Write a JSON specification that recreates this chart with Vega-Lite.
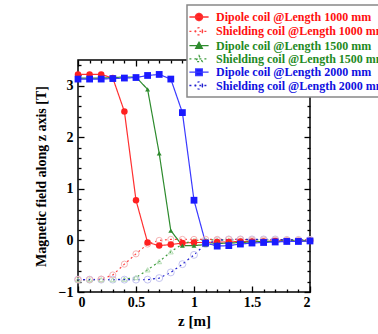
{
  "$schema": "https://vega.github.io/schema/vega-lite/v6.json",
  "width": 232,
  "height": 232,
  "autosize": "none",
  "padding": {"left": 78, "top": 60, "right": 68, "bottom": 42},
  "background": "white",
  "config": {
    "view": {"stroke": "black", "strokeWidth": 1.5},
    "axis": {
      "labelFont": "Liberation Serif", "labelFontWeight": "bold", "labelFontSize": 14, "labelColor": "black",
      "titleFont": "Liberation Serif", "titleFontWeight": "bold", "titleFontSize": 14, "titleColor": "black",
      "domain": false, "grid": false, "ticks": true, "tickColor": "black", "tickWidth": 1.3, "zindex": 2
    }
  },
  "datasets": {
    "field": [
      {"series": "Dipole coil @Length 1000 mm", "z": 0, "B": 3.22},
      {"series": "Dipole coil @Length 1000 mm", "z": 0.1, "B": 3.22},
      {"series": "Dipole coil @Length 1000 mm", "z": 0.2, "B": 3.22},
      {"series": "Dipole coil @Length 1000 mm", "z": 0.3, "B": 3.15},
      {"series": "Dipole coil @Length 1000 mm", "z": 0.4, "B": 2.5},
      {"series": "Dipole coil @Length 1000 mm", "z": 0.5, "B": 0.78},
      {"series": "Dipole coil @Length 1000 mm", "z": 0.6, "B": -0.04},
      {"series": "Dipole coil @Length 1000 mm", "z": 0.7, "B": -0.1},
      {"series": "Dipole coil @Length 1000 mm", "z": 0.8, "B": -0.08},
      {"series": "Dipole coil @Length 1000 mm", "z": 0.9, "B": -0.05},
      {"series": "Dipole coil @Length 1000 mm", "z": 1.0, "B": -0.04},
      {"series": "Dipole coil @Length 1000 mm", "z": 1.1, "B": -0.04},
      {"series": "Dipole coil @Length 1000 mm", "z": 1.2, "B": -0.03},
      {"series": "Dipole coil @Length 1000 mm", "z": 1.3, "B": -0.03},
      {"series": "Dipole coil @Length 1000 mm", "z": 1.4, "B": -0.02},
      {"series": "Dipole coil @Length 1000 mm", "z": 1.5, "B": -0.02},
      {"series": "Dipole coil @Length 1000 mm", "z": 1.6, "B": -0.02},
      {"series": "Dipole coil @Length 1000 mm", "z": 1.7, "B": -0.01},
      {"series": "Dipole coil @Length 1000 mm", "z": 1.8, "B": -0.01},
      {"series": "Dipole coil @Length 1000 mm", "z": 1.9, "B": -0.01},
      {"series": "Dipole coil @Length 1000 mm", "z": 2.0, "B": -0.01},
      {"series": "Shielding coil @Length 1000 mm", "z": 0, "B": -0.76},
      {"series": "Shielding coil @Length 1000 mm", "z": 0.1, "B": -0.76},
      {"series": "Shielding coil @Length 1000 mm", "z": 0.2, "B": -0.75},
      {"series": "Shielding coil @Length 1000 mm", "z": 0.3, "B": -0.67},
      {"series": "Shielding coil @Length 1000 mm", "z": 0.4, "B": -0.46},
      {"series": "Shielding coil @Length 1000 mm", "z": 0.5, "B": -0.26},
      {"series": "Shielding coil @Length 1000 mm", "z": 0.6, "B": -0.07},
      {"series": "Shielding coil @Length 1000 mm", "z": 0.7, "B": 0.0},
      {"series": "Shielding coil @Length 1000 mm", "z": 0.8, "B": 0.02},
      {"series": "Shielding coil @Length 1000 mm", "z": 0.9, "B": 0.02},
      {"series": "Shielding coil @Length 1000 mm", "z": 1.0, "B": 0.02},
      {"series": "Shielding coil @Length 1000 mm", "z": 1.1, "B": 0.02},
      {"series": "Shielding coil @Length 1000 mm", "z": 1.2, "B": 0.02},
      {"series": "Shielding coil @Length 1000 mm", "z": 1.3, "B": 0.02},
      {"series": "Shielding coil @Length 1000 mm", "z": 1.4, "B": 0.02},
      {"series": "Shielding coil @Length 1000 mm", "z": 1.5, "B": 0.01},
      {"series": "Shielding coil @Length 1000 mm", "z": 1.6, "B": 0.01},
      {"series": "Shielding coil @Length 1000 mm", "z": 1.7, "B": 0.01},
      {"series": "Shielding coil @Length 1000 mm", "z": 1.8, "B": 0.01},
      {"series": "Shielding coil @Length 1000 mm", "z": 1.9, "B": 0.01},
      {"series": "Shielding coil @Length 1000 mm", "z": 2.0, "B": 0.01},
      {"series": "Dipole coil @Length 1500 mm", "z": 0, "B": 3.15},
      {"series": "Dipole coil @Length 1500 mm", "z": 0.1, "B": 3.15},
      {"series": "Dipole coil @Length 1500 mm", "z": 0.2, "B": 3.15},
      {"series": "Dipole coil @Length 1500 mm", "z": 0.3, "B": 3.16},
      {"series": "Dipole coil @Length 1500 mm", "z": 0.4, "B": 3.17},
      {"series": "Dipole coil @Length 1500 mm", "z": 0.5, "B": 3.17},
      {"series": "Dipole coil @Length 1500 mm", "z": 0.6, "B": 2.93},
      {"series": "Dipole coil @Length 1500 mm", "z": 0.7, "B": 1.69},
      {"series": "Dipole coil @Length 1500 mm", "z": 0.8, "B": 0.19},
      {"series": "Dipole coil @Length 1500 mm", "z": 0.9, "B": -0.1},
      {"series": "Dipole coil @Length 1500 mm", "z": 1.0, "B": -0.1},
      {"series": "Dipole coil @Length 1500 mm", "z": 1.1, "B": -0.08},
      {"series": "Dipole coil @Length 1500 mm", "z": 1.2, "B": -0.06},
      {"series": "Dipole coil @Length 1500 mm", "z": 1.3, "B": -0.05},
      {"series": "Dipole coil @Length 1500 mm", "z": 1.4, "B": -0.04},
      {"series": "Dipole coil @Length 1500 mm", "z": 1.5, "B": -0.03},
      {"series": "Dipole coil @Length 1500 mm", "z": 1.6, "B": -0.02},
      {"series": "Dipole coil @Length 1500 mm", "z": 1.7, "B": -0.02},
      {"series": "Dipole coil @Length 1500 mm", "z": 1.8, "B": -0.01},
      {"series": "Dipole coil @Length 1500 mm", "z": 1.9, "B": -0.01},
      {"series": "Dipole coil @Length 1500 mm", "z": 2.0, "B": -0.01},
      {"series": "Shielding coil @Length 1500 mm", "z": 0, "B": -0.76},
      {"series": "Shielding coil @Length 1500 mm", "z": 0.1, "B": -0.76},
      {"series": "Shielding coil @Length 1500 mm", "z": 0.2, "B": -0.76},
      {"series": "Shielding coil @Length 1500 mm", "z": 0.3, "B": -0.76},
      {"series": "Shielding coil @Length 1500 mm", "z": 0.4, "B": -0.75},
      {"series": "Shielding coil @Length 1500 mm", "z": 0.5, "B": -0.72},
      {"series": "Shielding coil @Length 1500 mm", "z": 0.6, "B": -0.57},
      {"series": "Shielding coil @Length 1500 mm", "z": 0.7, "B": -0.41},
      {"series": "Shielding coil @Length 1500 mm", "z": 0.8, "B": -0.22},
      {"series": "Shielding coil @Length 1500 mm", "z": 0.9, "B": -0.07},
      {"series": "Shielding coil @Length 1500 mm", "z": 1.0, "B": 0.0},
      {"series": "Shielding coil @Length 1500 mm", "z": 1.1, "B": 0.01},
      {"series": "Shielding coil @Length 1500 mm", "z": 1.2, "B": 0.01},
      {"series": "Shielding coil @Length 1500 mm", "z": 1.3, "B": 0.01},
      {"series": "Shielding coil @Length 1500 mm", "z": 1.4, "B": 0.01},
      {"series": "Shielding coil @Length 1500 mm", "z": 1.5, "B": 0.01},
      {"series": "Shielding coil @Length 1500 mm", "z": 1.6, "B": 0.01},
      {"series": "Shielding coil @Length 1500 mm", "z": 1.7, "B": 0.01},
      {"series": "Shielding coil @Length 1500 mm", "z": 1.8, "B": 0.01},
      {"series": "Shielding coil @Length 1500 mm", "z": 1.9, "B": 0.01},
      {"series": "Shielding coil @Length 1500 mm", "z": 2.0, "B": 0.01},
      {"series": "Dipole coil @Length 2000 mm", "z": 0, "B": 3.13},
      {"series": "Dipole coil @Length 2000 mm", "z": 0.1, "B": 3.13},
      {"series": "Dipole coil @Length 2000 mm", "z": 0.2, "B": 3.13},
      {"series": "Dipole coil @Length 2000 mm", "z": 0.3, "B": 3.14},
      {"series": "Dipole coil @Length 2000 mm", "z": 0.4, "B": 3.15},
      {"series": "Dipole coil @Length 2000 mm", "z": 0.5, "B": 3.16},
      {"series": "Dipole coil @Length 2000 mm", "z": 0.6, "B": 3.2},
      {"series": "Dipole coil @Length 2000 mm", "z": 0.7, "B": 3.22},
      {"series": "Dipole coil @Length 2000 mm", "z": 0.8, "B": 3.13},
      {"series": "Dipole coil @Length 2000 mm", "z": 0.9, "B": 2.48},
      {"series": "Dipole coil @Length 2000 mm", "z": 1.0, "B": 0.78},
      {"series": "Dipole coil @Length 2000 mm", "z": 1.1, "B": -0.05},
      {"series": "Dipole coil @Length 2000 mm", "z": 1.2, "B": -0.11},
      {"series": "Dipole coil @Length 2000 mm", "z": 1.3, "B": -0.1},
      {"series": "Dipole coil @Length 2000 mm", "z": 1.4, "B": -0.07},
      {"series": "Dipole coil @Length 2000 mm", "z": 1.5, "B": -0.05},
      {"series": "Dipole coil @Length 2000 mm", "z": 1.6, "B": -0.04},
      {"series": "Dipole coil @Length 2000 mm", "z": 1.7, "B": -0.03},
      {"series": "Dipole coil @Length 2000 mm", "z": 1.8, "B": -0.02},
      {"series": "Dipole coil @Length 2000 mm", "z": 1.9, "B": -0.02},
      {"series": "Dipole coil @Length 2000 mm", "z": 2.0, "B": -0.01},
      {"series": "Shielding coil @Length 2000 mm", "z": 0, "B": -0.76},
      {"series": "Shielding coil @Length 2000 mm", "z": 0.1, "B": -0.76},
      {"series": "Shielding coil @Length 2000 mm", "z": 0.2, "B": -0.76},
      {"series": "Shielding coil @Length 2000 mm", "z": 0.3, "B": -0.76},
      {"series": "Shielding coil @Length 2000 mm", "z": 0.4, "B": -0.76},
      {"series": "Shielding coil @Length 2000 mm", "z": 0.5, "B": -0.76},
      {"series": "Shielding coil @Length 2000 mm", "z": 0.6, "B": -0.76},
      {"series": "Shielding coil @Length 2000 mm", "z": 0.7, "B": -0.73},
      {"series": "Shielding coil @Length 2000 mm", "z": 0.8, "B": -0.62},
      {"series": "Shielding coil @Length 2000 mm", "z": 0.9, "B": -0.46},
      {"series": "Shielding coil @Length 2000 mm", "z": 1.0, "B": -0.28},
      {"series": "Shielding coil @Length 2000 mm", "z": 1.1, "B": -0.07},
      {"series": "Shielding coil @Length 2000 mm", "z": 1.2, "B": 0.0},
      {"series": "Shielding coil @Length 2000 mm", "z": 1.3, "B": 0.02},
      {"series": "Shielding coil @Length 2000 mm", "z": 1.4, "B": 0.02},
      {"series": "Shielding coil @Length 2000 mm", "z": 1.5, "B": 0.02},
      {"series": "Shielding coil @Length 2000 mm", "z": 1.6, "B": 0.02},
      {"series": "Shielding coil @Length 2000 mm", "z": 1.7, "B": 0.02},
      {"series": "Shielding coil @Length 2000 mm", "z": 1.8, "B": 0.01},
      {"series": "Shielding coil @Length 2000 mm", "z": 1.9, "B": 0.01},
      {"series": "Shielding coil @Length 2000 mm", "z": 2.0, "B": 0.01}
    ]
  },
  "data": {"name": "field"},
  "resolve": {"axis": {"x": "independent", "y": "independent"}},
  "layer": [
    {
      "mark": {"type": "line", "strokeWidth": 1.2},
      "encoding": {
        "x": {"field": "z", "type": "quantitative", "scale": {"domain": [0, 2], "nice": false, "zero": false},
          "axis": {"orient": "bottom", "title": "z [m]", "titleFontSize": 15, "titlePadding": 4,
            "values": [0, 0.5, 1, 1.5, 2], "format": "~g", "offset": -6, "tickSize": 6, "labelPadding": 3}},
        "y": {"field": "B", "type": "quantitative", "scale": {"domain": [-1, 3.5], "nice": false, "zero": false},
          "axis": {"orient": "left", "title": "Magnetic field along z axis [T]", "titlePadding": 10,
            "values": [-1, 0, 1, 2, 3], "offset": -6, "tickSize": 6, "labelPadding": 5}},
        "color": {"field": "series", "type": "nominal",
          "scale": {"domain": ["Dipole coil @Length 1000 mm", "Shielding coil @Length 1000 mm", "Dipole coil @Length 1500 mm", "Shielding coil @Length 1500 mm", "Dipole coil @Length 2000 mm", "Shielding coil @Length 2000 mm"],
            "range": ["#ff3030", "#ff4040", "#2e8b2e", "#3a9a3a", "#3a3aff", "#2020d0"]},
          "legend": {
            "orient": "none", "legendX": 109, "legendY": -55, "title": null, "zindex": 3,
            "fillColor": "white", "strokeColor": "#888888", "padding": 5,
            "symbolSize": 144, "labelOffset": 10, "rowPadding": 0.3, "labelLimit": 400,
            "labelFont": "Liberation Serif", "labelFontWeight": "bold", "labelFontSize": 12,
            "symbolType": "M-1.6,0L1.6,0M0.6,0A0.6,0.6 0 1 1 -0.6,0A0.6,0.6 0 1 1 0.6,0Z",
            "encode": {
              "legend": {"update": {"strokeWidth": {"value": 1.5}}},
              "symbols": {"update": {
                "shape": {"signal": "indexof(datum.value,'1500')>0 ? 'M-1.6,0L1.6,0M0,-0.55L0.55,0.45L-0.55,0.45Z' : (indexof(datum.value,'Dipole')>=0 && indexof(datum.value,'2000')>0) ? 'M-1.6,0L1.6,0M-0.55,-0.55L0.55,-0.55L0.55,0.55L-0.55,0.55Z' : 'M-1.6,0L1.6,0M0.6,0A0.6,0.6 0 1 1 -0.6,0A0.6,0.6 0 1 1 0.6,0Z'"},
                "strokeDash": {"signal": "indexof(datum.value,'Shielding')>=0 ? [1.5,2.5] : [1,0]"},
                "strokeWidth": {"value": 1.3},
                "fill": {"signal": "indexof(datum.value,'Shielding')>=0 ? 'rgba(255,255,255,0)' : indexof(datum.value,'1000')>0 ? '#ff2020' : indexof(datum.value,'1500')>0 ? '#2e8b2e' : '#1a1aff'"},
                "fillOpacity": {"value": 1}
              }},
              "labels": {"update": {
                "fill": {"signal": "indexof(datum.value,'1000')>0 ? '#ff1010' : indexof(datum.value,'1500')>0 ? '#1f8a1f' : '#1010e0'"}
              }}
            }
          }},
        "strokeDash": {"field": "series", "type": "nominal", "legend": null,
          "scale": {"domain": ["Dipole coil @Length 1000 mm", "Shielding coil @Length 1000 mm", "Dipole coil @Length 1500 mm", "Shielding coil @Length 1500 mm", "Dipole coil @Length 2000 mm", "Shielding coil @Length 2000 mm"],
            "range": [[1, 0], [2, 3], [1, 0], [2, 3], [1, 0], [2, 3]]}}
      }
    },
    {
      "mark": {"type": "line", "strokeOpacity": 0},
      "encoding": {
        "x": {"field": "z", "type": "quantitative",
          "axis": {"orient": "bottom", "title": null, "labels": false, "values": [0.1,0.2,0.3,0.4,0.6,0.7,0.8,0.9,1.1,1.2,1.3,1.4,1.6,1.7,1.8,1.9], "offset": -3, "tickSize": 3}},
        "y": {"field": "B", "type": "quantitative",
          "axis": {"orient": "left", "title": null, "labels": false, "values": [-0.8,-0.6,-0.4,-0.2,0.2,0.4,0.6,0.8,1.2,1.4,1.6,1.8,2.2,2.4,2.6,2.8,3.2,3.4], "offset": -3, "tickSize": 3}},
        "detail": {"field": "series", "type": "nominal"}
      }
    },
    {
      "mark": {"type": "line", "strokeOpacity": 0},
      "encoding": {
        "x": {"field": "z", "type": "quantitative",
          "axis": {"orient": "top", "title": null, "labels": false, "values": [0, 0.5, 1, 1.5, 2], "offset": -6, "tickSize": 6}},
        "y": {"field": "B", "type": "quantitative",
          "axis": {"orient": "right", "title": null, "labels": false, "values": [-1, 0, 1, 2, 3], "offset": -6, "tickSize": 6}},
        "detail": {"field": "series", "type": "nominal"}
      }
    },
    {
      "mark": {"type": "line", "strokeOpacity": 0},
      "encoding": {
        "x": {"field": "z", "type": "quantitative",
          "axis": {"orient": "top", "title": null, "labels": false, "values": [0.1,0.2,0.3,0.4,0.6,0.7,0.8,0.9,1.1,1.2,1.3,1.4,1.6,1.7,1.8,1.9], "offset": -3, "tickSize": 3}},
        "y": {"field": "B", "type": "quantitative",
          "axis": {"orient": "right", "title": null, "labels": false, "values": [-0.8,-0.6,-0.4,-0.2,0.2,0.4,0.6,0.8,1.2,1.4,1.6,1.8,2.2,2.4,2.6,2.8,3.2,3.4], "offset": -3, "tickSize": 3}},
        "detail": {"field": "series", "type": "nominal"}
      }
    },
    {
      "transform": [{"filter": {"field": "series", "equal": "Shielding coil @Length 2000 mm"}}],
      "mark": {"type": "point", "shape": "circle", "size": 48, "filled": false, "stroke": "#c4c4f0", "strokeWidth": 1, "opacity": 1},
      "encoding": {"x": {"field": "z", "type": "quantitative", "axis": null}, "y": {"field": "B", "type": "quantitative", "axis": null}}
    },
    {
      "transform": [{"filter": {"field": "series", "equal": "Shielding coil @Length 1000 mm"}}],
      "mark": {"type": "point", "shape": "circle", "size": 38, "filled": false, "stroke": "#f6b4b4", "strokeWidth": 1, "opacity": 1},
      "encoding": {"x": {"field": "z", "type": "quantitative", "axis": null}, "y": {"field": "B", "type": "quantitative", "axis": null}}
    },
    {
      "transform": [{"filter": {"field": "series", "equal": "Shielding coil @Length 1500 mm"}}],
      "mark": {"type": "point", "shape": "triangle-up", "size": 24, "filled": false, "stroke": "#b4dcb4", "strokeWidth": 1, "opacity": 1},
      "encoding": {"x": {"field": "z", "type": "quantitative", "axis": null}, "y": {"field": "B", "type": "quantitative", "axis": null}}
    },
    {
      "transform": [{"filter": {"field": "series", "equal": "Dipole coil @Length 1000 mm"}}],
      "mark": {"type": "point", "shape": "circle", "size": 42, "filled": true, "color": "#ff2020", "opacity": 1},
      "encoding": {"x": {"field": "z", "type": "quantitative", "axis": null}, "y": {"field": "B", "type": "quantitative", "axis": null}}
    },
    {
      "transform": [{"filter": {"field": "series", "equal": "Dipole coil @Length 1500 mm"}}],
      "mark": {"type": "point", "shape": "triangle-up", "size": 24, "filled": true, "color": "#2e8b2e", "opacity": 1},
      "encoding": {"x": {"field": "z", "type": "quantitative", "axis": null}, "y": {"field": "B", "type": "quantitative", "axis": null}}
    },
    {
      "transform": [{"filter": {"field": "series", "equal": "Dipole coil @Length 2000 mm"}}],
      "mark": {"type": "point", "shape": "square", "size": 46, "filled": true, "color": "#1a1aff", "opacity": 1},
      "encoding": {"x": {"field": "z", "type": "quantitative", "axis": null}, "y": {"field": "B", "type": "quantitative", "axis": null}}
    }
  ]
}
